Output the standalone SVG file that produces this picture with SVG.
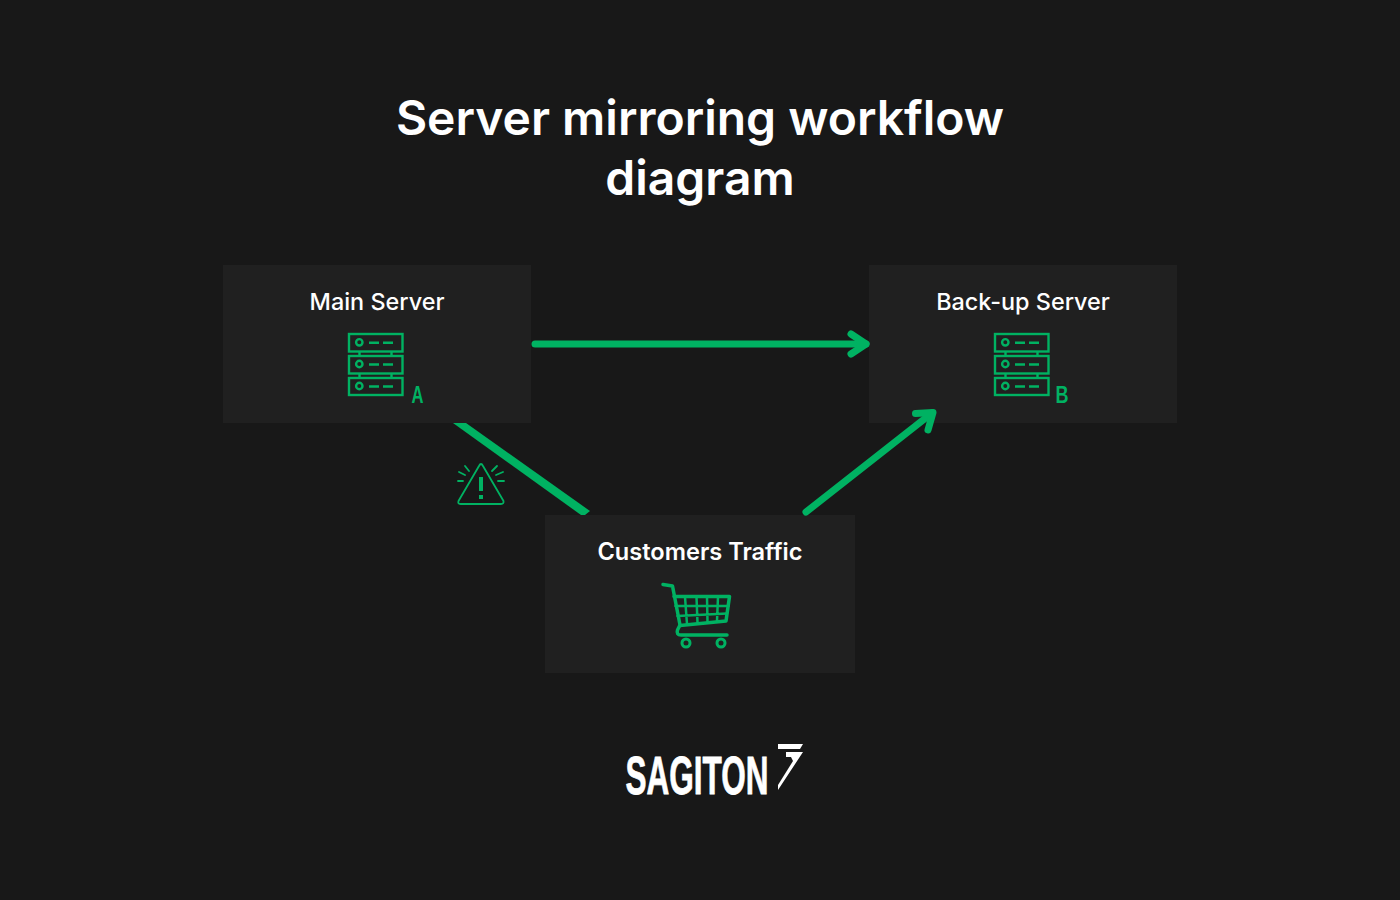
<svg xmlns="http://www.w3.org/2000/svg" width="1400" height="900" viewBox="0 0 1400 900">
<style>
.box{fill:#202020}
.t{font-family:Inter,"Liberation Sans",sans-serif;fill:#fff;text-anchor:middle}
.title{font-size:48px;font-weight:600}
.label{font-size:23.400px;font-weight:500}
.g{fill:none;stroke:#00b262;stroke-width:2.400}
.c{fill:none;stroke:#00b262;stroke-width:7;stroke-linecap:round;stroke-linejoin:round}
.tag{font-family:"Liberation Sans",sans-serif;font-size:23px;font-weight:700;fill:#00b262}
</style>
<defs>
<g id="srv">
<rect x="349" y="334" width="53.500" height="17.500" class="g"/>
<rect x="349" y="356" width="53.500" height="17.500" class="g"/>
<rect x="349" y="378" width="53.500" height="17" class="g"/>
<path d="M359.500 352V356M391.500 352V356M359.500 374V378M391.500 374V378M369 342.800H379M383 342.800H393M369 364.500H379M383 364.500H393M369 386.500H379M383 386.500H393" class="g"/>
<circle cx="359.300" cy="342.300" r="3.200" class="g"/>
<circle cx="359.300" cy="364" r="3.200" class="g"/>
<circle cx="359.300" cy="386" r="3.200" class="g"/>
</g>
</defs>
<rect width="1400" height="900" fill="#181818"/>
<g id="title">
<text class="t title" x="700" y="135">Server mirroring workflow</text>
<text class="t title" x="700" y="195">diagram</text>
</g>
<g id="main-server">
<rect class="box" x="223" y="265" width="308" height="158"/>
<text class="t label" x="377" y="310">Main Server</text>
<use href="#srv"/>
<text class="tag" x="411.500" y="403" textLength="12" lengthAdjust="spacingAndGlyphs">A</text>
</g>
<g id="backup-server">
<rect class="box" x="869" y="265" width="308" height="158"/>
<text class="t label" x="1023" y="310">Back-up Server</text>
<use href="#srv" x="646"/>
<text class="tag" x="1055.500" y="403" textLength="13" lengthAdjust="spacingAndGlyphs">B</text>
</g>
<g id="customers-traffic">
<rect class="box" x="545" y="515" width="310" height="158"/>
<text class="t label" x="700" y="560" style="font-weight:600;font-size:23.600px">Customers Traffic</text>
<g fill="none" stroke="#00b262" stroke-linecap="round" stroke-linejoin="round">
<path d="M663 584.500L672.500 586L680 625L677.500 630Q676 635 681 635H727" stroke-width="3.500"/>
<path d="M674 596.500H729.500L726 621L680 625.500" stroke-width="3.500"/>
<path d="M675.500 606H728.500M677.500 616L727 613.500M685 597L687 624M696.500 597L697.500 623M707 597L707.500 622M718 597L717 621" stroke-width="2.500"/>
<circle cx="686" cy="643" r="4" stroke-width="3"/>
<circle cx="721" cy="643" r="4" stroke-width="3"/>
</g>
</g>
<g id="connectors">
<path class="c" d="M535 344H866"/>
<path class="c" d="M851 334L866 344L851 354"/>
<path class="c" d="M806 512L932 413"/>
<path class="c" d="M915.500 413.500L933 412.500L928 430"/>
<path d="M453 423H466L590 511L585 515H581Z" fill="#00b262"/>
</g>
<g id="warning" fill="none" stroke="#00b262" stroke-linecap="round" stroke-linejoin="round">
<path d="M481 464Q482 464 483 466L503.500 501Q504 504 501 504H460.500Q457.500 504 458.500 501L479 466Q480 464 481 464Z" stroke-width="1.800"/>
<path d="M481 477V491" stroke-width="4" stroke-linecap="butt"/>
<path d="M481 495V499" stroke-width="4" stroke-linecap="butt"/>
<path d="M465 466L469 471M459 472L465 475M458 481H463M497 466L492 471M503 472L496 475M504 481H498" stroke-width="1.800"/>
</g>
<g id="logo">
<text x="625.500" y="794" font-family="Liberation Sans,sans-serif" font-size="53" font-weight="700" fill="#fff" stroke="#fff" stroke-width="0.800" textLength="143" lengthAdjust="spacingAndGlyphs">SAGITON</text>
<path d="M778 744H803L800 749H778ZM786 752H803L778 790V785L793 761L791 757H786Z" fill="#fff"/>
</g>
</svg>
